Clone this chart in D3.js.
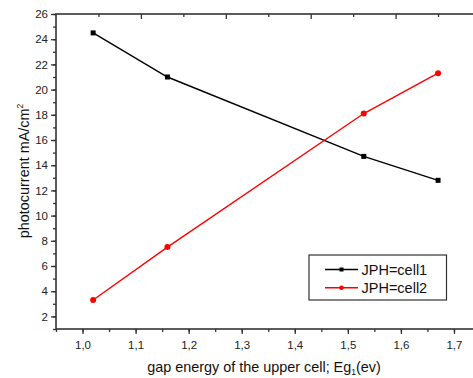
<!DOCTYPE html>
<html>
<head>
<meta charset="utf-8">
<script src="https://cdn.jsdelivr.net/npm/d3@7"></script>
<style>
  html, body { margin: 0; padding: 0; background: #fff; }
  svg { display: block; font-family: "Liberation Sans", Arial, sans-serif; }
</style>
</head>
<body>
<svg id="chart" width="473" height="378"></svg>
<script>
// Band-gap energy of the upper cell (eV)
const gapEnergy = [1.02, 1.16, 1.53, 1.67];
// Photocurrent densities (mA/cm²)
const cell1 = [24.5, 21.0, 14.7, 12.8];
const cell2 = [3.3, 7.5, 18.1, 21.3];
const seriesNames = ["JPH=cell1", "JPH=cell2"];
const seriesColors = ["#000000", "#ff0000"];
const xTicks = [1.0, 1.1, 1.2, 1.3, 1.4, 1.5, 1.6, 1.7];
const yTicks = [2, 4, 6, 8, 10, 12, 14, 16, 18, 20, 22, 24, 26];

const svg = d3.select("#chart");
const plotLeft = 56, plotRight = 480.5, plotTop = 14, plotBottom = 329;
const frameColor = "#333";

const x = d3.scaleLinear().domain([0.95, 1.75]).range([plotLeft, plotRight]);
const y = d3.scaleLinear().domain([1, 26]).range([plotBottom, plotTop]);
const fmt = d => d3.format(".1f")(d).replace(".", ",");

// minor ticks
const xMinor = d3.range(0.95, 1.7501, 0.05).map(v => +v.toFixed(2));
const yMinor = d3.range(1, 26.01, 1);

// Bottom axis (outward ticks)
const gx = svg.append("g").attr("transform", `translate(0,${plotBottom})`)
  .call(d3.axisBottom(x).tickValues(xMinor).tickSize(3).tickFormat(""));
gx.select(".domain").remove();
const gxMajor = svg.append("g").attr("transform", `translate(0,${plotBottom})`)
  .call(d3.axisBottom(x).tickValues(xTicks).tickSize(5).tickPadding(7).tickFormat(fmt));
gxMajor.select(".domain").remove();
gxMajor.selectAll("text").attr("font-size", 11.5).attr("fill", "#222");

// Left axis (outward ticks)
const gyMinor = svg.append("g").attr("transform", `translate(${plotLeft},0)`)
  .call(d3.axisLeft(y).tickValues(yMinor).tickSize(3).tickFormat(""));
gyMinor.select(".domain").remove();
const gy = svg.append("g").attr("transform", `translate(${plotLeft},0)`)
  .call(d3.axisLeft(y).tickValues(yTicks).tickSize(5).tickPadding(3).tickFormat(d3.format("d")));
gy.select(".domain").remove();
gy.selectAll("text").attr("font-size", 11.5).attr("fill", "#222");

// Top axis: unlabeled inward ticks
const xTop = d3.scaleLinear().domain([0, 5]).range([plotLeft, plotRight]);
const gTopMinor = svg.append("g").attr("transform", `translate(0,${plotTop})`)
  .call(d3.axisBottom(xTop).tickValues(d3.range(0.5, 5, 1)).tickSize(3).tickFormat(""));
gTopMinor.select(".domain").remove();
const gTop = svg.append("g").attr("transform", `translate(0,${plotTop})`)
  .call(d3.axisBottom(xTop).tickValues([1, 2, 3, 4]).tickSize(5).tickFormat(""));
gTop.select(".domain").remove();

svg.selectAll(".tick line").attr("stroke", frameColor).attr("stroke-width", 1.3);

// Frame
svg.append("rect")
  .attr("x", plotLeft).attr("y", plotTop)
  .attr("width", plotRight - plotLeft).attr("height", plotBottom - plotTop)
  .attr("fill", "none").attr("stroke", frameColor).attr("stroke-width", 1.6);

// Series
const series = [cell1, cell2];
const line = d3.line().x(d => x(d[0])).y(d => y(d[1]));
series.forEach((vals, i) => {
  const pts = gapEnergy.map((g, j) => [g, vals[j]]);
  svg.append("path").datum(pts)
    .attr("d", line).attr("fill", "none")
    .attr("stroke", seriesColors[i]).attr("stroke-width", 1.4);
  if (i === 0) {
    svg.selectAll(null).data(pts).enter().append("rect")
      .attr("x", d => x(d[0]) - 2.5).attr("y", d => y(d[1]) - 2.5)
      .attr("width", 5).attr("height", 5).attr("fill", seriesColors[i]);
  } else {
    svg.selectAll(null).data(pts).enter().append("circle")
      .attr("cx", d => x(d[0])).attr("cy", d => y(d[1]))
      .attr("r", 3).attr("fill", seriesColors[i]);
  }
});

// Legend
const lg = svg.append("g");
lg.append("rect").attr("x", 309).attr("y", 255).attr("width", 137.5).attr("height", 45)
  .attr("fill", "#fff").attr("stroke", frameColor).attr("stroke-width", 1.2);
seriesNames.forEach((name, i) => {
  const ly = 269.5 + i * 18.3;
  lg.append("line").attr("x1", 325).attr("x2", 358).attr("y1", ly).attr("y2", ly)
    .attr("stroke", seriesColors[i]).attr("stroke-width", 1.4);
  if (i === 0) {
    lg.append("rect").attr("x", 339.5).attr("y", ly - 2).attr("width", 4).attr("height", 4)
      .attr("fill", seriesColors[i]);
  } else {
    lg.append("circle").attr("cx", 341.5).attr("cy", ly).attr("r", 2.3)
      .attr("fill", seriesColors[i]);
  }
  lg.append("text").attr("x", 361.5).attr("y", ly + 5)
    .attr("font-size", 14.5).attr("fill", "#111").text(name);
});

// Axis titles
const xt = svg.append("text").attr("x", 264).attr("y", 372)
  .attr("text-anchor", "middle").attr("font-size", 14.4).attr("fill", "#111");
xt.append("tspan").text("gap energy of the upper cell; Eg");
xt.append("tspan").attr("font-size", 8.5).attr("dy", 3).text("1");
xt.append("tspan").attr("dy", -3).text("(ev)");

const yt = svg.append("text")
  .attr("transform", `translate(28.5,171) rotate(-90)`)
  .attr("text-anchor", "middle").attr("font-size", 14.4).attr("fill", "#111");
yt.append("tspan").text("photocurrent mA/cm");
yt.append("tspan").attr("font-size", 8.5).attr("dy", -6).text("2");
</script>
</body>
</html>
